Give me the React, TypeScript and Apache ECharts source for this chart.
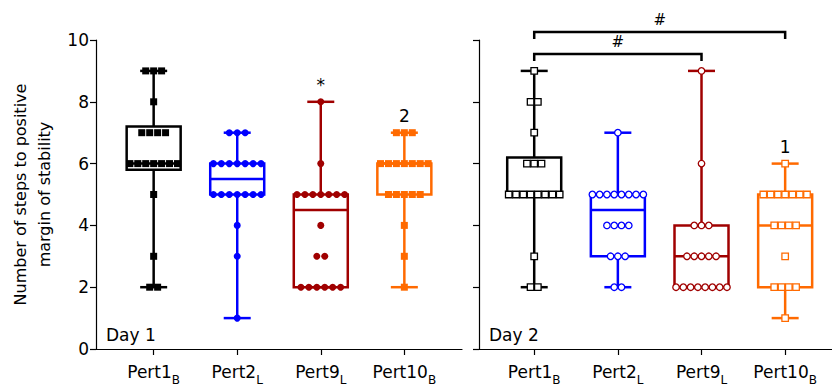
import React, { useEffect, useRef } from "react";
import * as echarts from "echarts";

// ---- data ----
const categories = ["Pert1", "Pert2", "Pert9", "Pert10"];
const subscripts = ["B", "L", "L", "B"];

// Day 1 individual values
const day1Pert1 = [9, 9, 9, 8, 7, 7, 7, 7, 6, 6, 6, 6, 6, 6, 6, 5, 3, 2, 2];
const day1Pert2 = [7, 7, 7, 6, 6, 6, 6, 6, 6, 6, 5, 5, 5, 5, 5, 5, 5, 4, 3, 1];
const day1Pert9 = [8, 6, 5, 5, 5, 5, 5, 5, 5, 4, 3, 3, 2, 2, 2, 2, 2, 2];
const day1Pert10 = [7, 7, 7, 6, 6, 6, 6, 6, 6, 6, 5, 5, 5, 5, 5, 4, 3, 2];

// Day 2 individual values
const day2Pert1 = [9, 8, 8, 7, 6, 6, 6, 5, 5, 5, 5, 5, 5, 5, 5, 3, 2, 2];
const day2Pert2 = [7, 5, 5, 5, 5, 5, 5, 5, 5, 4, 4, 4, 4, 3, 3, 3, 2, 2];
const day2Pert9 = [9, 6, 4, 4, 4, 3, 3, 3, 3, 3, 2, 2, 2, 2, 2, 2, 2, 2];
const day2Pert10 = [6, 5, 5, 5, 5, 5, 5, 5, 4, 4, 4, 4, 3, 2, 2, 2, 2, 1];

// Box stats: [min, Q1, median, Q3, max]
const day1Boxes = [
  [2, 5.8, 6, 7.2, 9],
  [1, 5, 5.5, 6, 7],
  [2, 2, 4.5, 5, 8],
  [2, 5, 6, 6, 7],
];
const day2Boxes = [
  [2, 5, 5, 6.2, 9],
  [2, 3, 4.5, 5, 7],
  [2, 2, 3, 4, 9],
  [1, 2, 4, 5, 6],
];

// annotation marks above each box
const day1Marks = ["", "", "*", "2"];
const day2Marks = ["", "", "", "1"];

// significance brackets on day 2: [fromCategory, toCategory, level]
const day2Brackets = [
  [1, 4, 10.26],
  [1, 3, 9.55],
];
const day2BracketLabels = ["#", "#"];

const colors = ["#000000", "#0000ff", "#a00000", "#ff6a00"];
const symbols = ["rect", "circle", "circle", "rect"];

const FONT = "DejaVu Sans, Verdana, sans-serif";

function spread(values: number[], cat: number, step: number) {
  const counts: Record<string, number> = {};
  values.forEach((v) => (counts[v] = (counts[v] || 0) + 1));
  const seen: Record<string, number> = {};
  return values.map((v) => {
    const n = counts[v];
    const i = seen[v] || 0;
    seen[v] = i + 1;
    return [cat + (i - (n - 1) / 2) * step, v];
  });
}

function boxSeries(boxes: number[][], marks: string[], axisIndex: number) {
  return {
    type: "custom",
    xAxisIndex: axisIndex,
    yAxisIndex: axisIndex,
    clip: false,
    z: 2,
    data: boxes.map((b, i) => [i + 1, ...b]),
    renderItem: (params: any, api: any) => {
      const i = params.dataIndex;
      const x = api.value(0);
      const color = colors[i];
      const pMin = api.coord([x, api.value(1)]);
      const pQ1 = api.coord([x, api.value(2)]);
      const pMed = api.coord([x, api.value(3)]);
      const pQ3 = api.coord([x, api.value(4)]);
      const pMax = api.coord([x, api.value(5)]);
      const cx = pMin[0];
      const bw = 54;
      const cw = 27;
      const st = { stroke: color, lineWidth: 2.5, fill: "none" };
      const children: any[] = [
        { type: "line", shape: { x1: cx, y1: pMax[1], x2: cx, y2: pQ3[1] }, style: st },
        { type: "line", shape: { x1: cx, y1: pQ1[1], x2: cx, y2: pMin[1] }, style: st },
        { type: "line", shape: { x1: cx - cw / 2, y1: pMax[1], x2: cx + cw / 2, y2: pMax[1] }, style: st },
        { type: "line", shape: { x1: cx - cw / 2, y1: pMin[1], x2: cx + cw / 2, y2: pMin[1] }, style: st },
        {
          type: "rect",
          shape: { x: cx - bw / 2, y: pQ3[1], width: bw, height: pQ1[1] - pQ3[1] },
          style: st,
        },
        { type: "line", shape: { x1: cx - bw / 2, y1: pMed[1], x2: cx + bw / 2, y2: pMed[1] }, style: st },
      ];
      if (marks[i]) {
        children.push({
          type: "text",
          x: cx,
          y: pMax[1] - 17,
          style: {
            text: marks[i],
            fill: "#000",
            fontSize: 17,
            fontFamily: FONT,
            align: "center",
            verticalAlign: "middle",
            textAlign: "center",
            textVerticalAlign: "middle",
          },
        });
      }
      return { type: "group", children };
    },
  };
}

function pointSeries(values: number[], cat: number, axisIndex: number, hollow: boolean, step: number) {
  const color = colors[cat - 1];
  return {
    type: "scatter",
    xAxisIndex: axisIndex,
    yAxisIndex: axisIndex,
    z: 3,
    symbol: symbols[cat - 1],
    symbolSize: hollow ? 6.5 : 7,
    itemStyle: hollow
      ? { color: "#ffffff", borderColor: color, borderWidth: 1.3, opacity: 1 }
      : { color, opacity: 1 },
    data: spread(values, cat, step),
  };
}

function bracketSeries() {
  return {
    type: "custom",
    xAxisIndex: 1,
    yAxisIndex: 1,
    clip: false,
    z: 4,
    data: day2Brackets,
    renderItem: (params: any, api: any) => {
      const i = params.dataIndex;
      const y = api.value(2);
      const p1 = api.coord([api.value(0), y]);
      const p2 = api.coord([api.value(1), y]);
      const drop = 7;
      return {
        type: "group",
        children: [
          {
            type: "polyline",
            shape: {
              points: [
                [p1[0], p1[1] + drop],
                [p1[0], p1[1]],
                [p2[0], p2[1]],
                [p2[0], p2[1] + drop],
              ],
            },
            style: { stroke: "#000", lineWidth: 2.5, fill: "none" },
          },
          {
            type: "text",
            x: (p1[0] + p2[0]) / 2,
            y: p1[1] - 12,
            style: {
              text: day2BracketLabels[i],
              fill: "#000",
              fontSize: 15,
              fontFamily: FONT,
              align: "center",
              verticalAlign: "middle",
              textAlign: "center",
              textVerticalAlign: "middle",
            },
          },
        ],
      };
    },
  };
}

function xAxis(gridIndex: number, min: number, max: number) {
  return {
    type: "value",
    gridIndex,
    min,
    max,
    splitLine: { show: false },
    axisLine: { show: true, lineStyle: { color: "#000", width: 1.2 } },
    axisTick: { show: true, customValues: [1, 2, 3, 4], length: 6, lineStyle: { color: "#000", width: 1.2 } },
    axisLabel: {
      show: true,
      customValues: [1, 2, 3, 4],
      margin: 14,
      formatter: (v: number) => {
        const i = Math.round(v) - 1;
        return `{a|${categories[i]}}{b|${subscripts[i]}}`;
      },
      rich: {
        a: { fontSize: 17, fontFamily: FONT, color: "#000", verticalAlign: "bottom", padding: [0, 0, 6, 0] },
        b: { fontSize: 12, fontFamily: FONT, color: "#000", verticalAlign: "bottom" },
      },
    },
  };
}

function yAxis(gridIndex: number, showLabels: boolean) {
  return {
    type: "value",
    gridIndex,
    min: 0,
    max: 10,
    interval: 2,
    splitLine: { show: false },
    axisLine: { show: true, lineStyle: { color: "#000", width: 1.2 } },
    axisTick: { show: true, length: 6, lineStyle: { color: "#000", width: 1.2 } },
    axisLabel: { show: showLabels, fontSize: 17, fontFamily: FONT, color: "#000", margin: 7 },
    name: showLabels ? "Number of steps to positive\nmargin of stability" : "",
    nameLocation: "middle",
    nameGap: 40,
    nameTextStyle: { fontSize: 16, fontFamily: FONT, color: "#000", lineHeight: 24 },
  };
}

export default function App() {
  const ref = useRef<HTMLDivElement>(null);
  useEffect(() => {
    if (!ref.current) return;
    const chart = echarts.init(ref.current, undefined, { renderer: "svg" });
    const day1 = [day1Pert1, day1Pert2, day1Pert9, day1Pert10];
    const day2 = [day2Pert1, day2Pert2, day2Pert9, day2Pert10];
    chart.setOption({
      animation: false,
      backgroundColor: "#ffffff",
      grid: [
        { left: 96, top: 40, width: 366, height: 312 },
        { left: 479, top: 40, width: 353, height: 312 },
      ],
      xAxis: [xAxis(0, 0.31, 4.69), xAxis(1, 0.34, 4.56)],
      yAxis: [yAxis(0, true), yAxis(1, false)],
      graphic: [
        { type: "text", left: 106, top: 326, style: { text: "Day 1", fontSize: 17, fontFamily: FONT, fill: "#000" } },
        { type: "text", left: 489, top: 326, style: { text: "Day 2", fontSize: 17, fontFamily: FONT, fill: "#000" } },
      ],
      series: [
        boxSeries(day1Boxes, day1Marks, 0),
        boxSeries(day2Boxes, day2Marks, 1),
        ...day1.map((v, i) => pointSeries(v, i + 1, 0, false, 0.095)),
        ...day2.map((v, i) => pointSeries(v, i + 1, 1, true, 0.087)),
        bracketSeries(),
      ],
    });
    return () => chart.dispose();
  }, []);
  return (
    <div
      ref={ref}
      style={{ position: "fixed", left: 0, top: 0, width: 832, height: 386, background: "#fff" }}
    />
  );
}
